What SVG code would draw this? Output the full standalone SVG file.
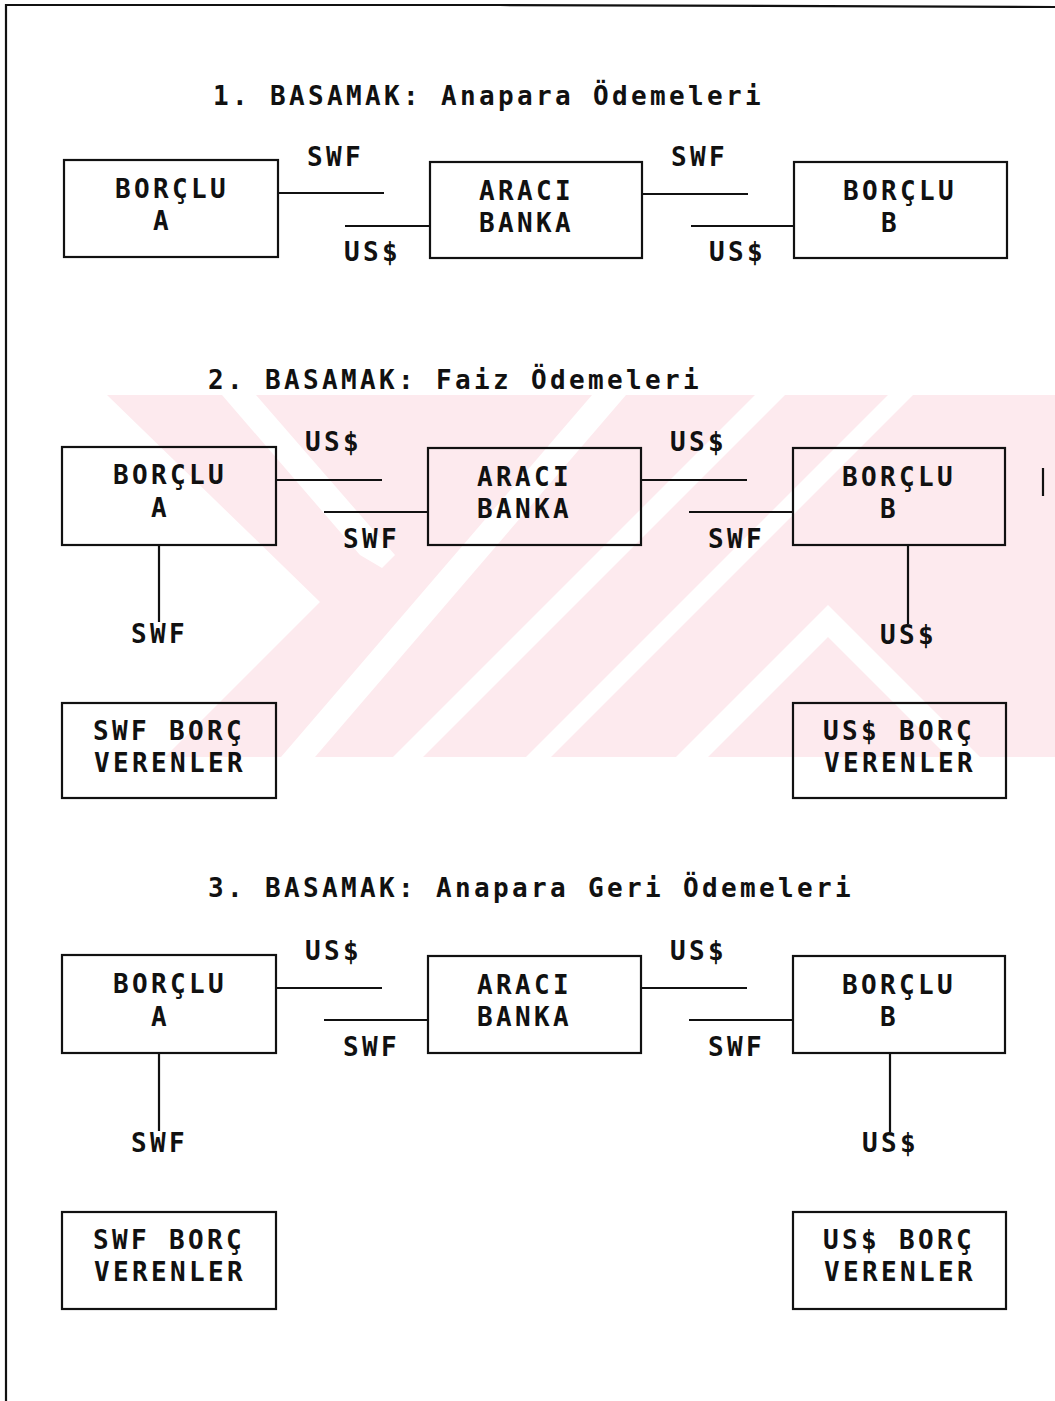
<svg xmlns="http://www.w3.org/2000/svg" width="1055" height="1401" viewBox="0 0 1055 1401">
<style>
  .t{font-family:"DejaVu Sans Mono","Liberation Mono",monospace;font-size:26px;font-weight:bold;letter-spacing:3.35px;fill:#111}
  .box{fill:none;stroke:#111;stroke-width:2.2}
  .ln{stroke:#111;stroke-width:2.2;fill:none}
  .wm{fill:#fdeaee}
  .wh{fill:#ffffff}
</style>
<rect x="0" y="0" width="1055" height="1401" fill="#ffffff"/>
<g id="watermark">
  <polygon class="wm" points="107,395 1055,395 1055,757 165,757 320,602"/>
  <polygon class="wh" points="222,395 256,395 395,555 382,568 360,555"/>
  <polygon class="wh" points="592,395 626,395 315,757 281,757"/>
  <polygon class="wh" points="755,395 785,395 423,757 393,757"/>
  <polygon class="wh" points="888,395 913,395 551,757 526,757"/>
  <polygon class="wh" points="676,757 828,605 980,757 948,757 828,637 708,757"/>
</g>
<g id="frame">
  <path class="ln" d="M6,1401 L6,5 L500,5 L1055,7"/>
  <line class="ln" x1="1043" y1="468" x2="1043" y2="496"/>
</g>
<g id="titles">
  <text class="t" x="213" y="105">1. BASAMAK: Anapara Ödemeleri</text>
  <text class="t" x="208" y="389">2. BASAMAK: Faiz Ödemeleri</text>
  <text class="t" x="208" y="897">3. BASAMAK: Anapara Geri Ödemeleri</text>
</g>
<g id="s1-borclu-a"><rect class="box" x="64" y="160" width="214" height="97"/><text class="t" x="115" y="198">BORÇLU</text><text class="t" x="153" y="230">A</text></g>
<g id="s1-araci-banka"><rect class="box" x="430" y="162" width="212" height="96"/><text class="t" x="479" y="200">ARACI</text><text class="t" x="479" y="232">BANKA</text></g>
<g id="s1-borclu-b"><rect class="box" x="794" y="162" width="213" height="96"/><text class="t" x="843" y="200">BORÇLU</text><text class="t" x="881" y="232">B</text></g>

<g id="s2-borclu-a"><rect class="box" x="62" y="447" width="214" height="98"/><text class="t" x="113" y="484">BORÇLU</text><text class="t" x="151" y="517">A</text></g>
<g id="s2-araci-banka"><rect class="box" x="428" y="448" width="213" height="97"/><text class="t" x="477" y="486">ARACI</text><text class="t" x="477" y="518">BANKA</text></g>
<g id="s2-borclu-b"><rect class="box" x="793" y="448" width="212" height="97"/><text class="t" x="842" y="486">BORÇLU</text><text class="t" x="880" y="518">B</text></g>
<g id="s2-swf-borc"><rect class="box" x="62" y="703" width="214" height="95"/><text class="t" x="93" y="740">SWF BORÇ</text><text class="t" x="94" y="772">VERENLER</text></g>
<g id="s2-usd-borc"><rect class="box" x="793" y="703" width="213" height="95"/><text class="t" x="823" y="740">US$ BORÇ</text><text class="t" x="824" y="772">VERENLER</text></g>

<g id="s3-borclu-a"><rect class="box" x="62" y="955" width="214" height="98"/><text class="t" x="113" y="993">BORÇLU</text><text class="t" x="151" y="1026">A</text></g>
<g id="s3-araci-banka"><rect class="box" x="428" y="956" width="213" height="97"/><text class="t" x="477" y="994">ARACI</text><text class="t" x="477" y="1026">BANKA</text></g>
<g id="s3-borclu-b"><rect class="box" x="793" y="956" width="212" height="97"/><text class="t" x="842" y="994">BORÇLU</text><text class="t" x="880" y="1026">B</text></g>
<g id="s3-swf-borc"><rect class="box" x="62" y="1212" width="214" height="97"/><text class="t" x="93" y="1249">SWF BORÇ</text><text class="t" x="94" y="1281">VERENLER</text></g>
<g id="s3-usd-borc"><rect class="box" x="793" y="1212" width="213" height="97"/><text class="t" x="823" y="1249">US$ BORÇ</text><text class="t" x="824" y="1281">VERENLER</text></g>

<g id="connectors">
  <line class="ln" x1="278" y1="193" x2="384" y2="193"/>
  <line class="ln" x1="345" y1="226" x2="430" y2="226"/>
  <line class="ln" x1="642" y1="194" x2="748" y2="194"/>
  <line class="ln" x1="691" y1="226" x2="794" y2="226"/>

  <line class="ln" x1="276" y1="480" x2="382" y2="480"/>
  <line class="ln" x1="324" y1="512" x2="428" y2="512"/>
  <line class="ln" x1="641" y1="480" x2="747" y2="480"/>
  <line class="ln" x1="689" y1="512" x2="793" y2="512"/>
  <line class="ln" x1="159" y1="545" x2="159" y2="622"/>
  <line class="ln" x1="908" y1="545" x2="908" y2="624"/>

  <line class="ln" x1="276" y1="988" x2="382" y2="988"/>
  <line class="ln" x1="324" y1="1020" x2="428" y2="1020"/>
  <line class="ln" x1="641" y1="988" x2="747" y2="988"/>
  <line class="ln" x1="689" y1="1020" x2="793" y2="1020"/>
  <line class="ln" x1="159" y1="1053" x2="159" y2="1131"/>
  <line class="ln" x1="890" y1="1053" x2="890" y2="1132"/>
</g>
<g id="connector-labels">
  <text class="t" x="307" y="166">SWF</text>
  <text class="t" x="344" y="261">US$</text>
  <text class="t" x="671" y="166">SWF</text>
  <text class="t" x="709" y="261">US$</text>

  <text class="t" x="305" y="451">US$</text>
  <text class="t" x="343" y="548">SWF</text>
  <text class="t" x="670" y="451">US$</text>
  <text class="t" x="708" y="548">SWF</text>
  <text class="t" x="131" y="643">SWF</text>
  <text class="t" x="880" y="644">US$</text>

  <text class="t" x="305" y="960">US$</text>
  <text class="t" x="343" y="1056">SWF</text>
  <text class="t" x="670" y="960">US$</text>
  <text class="t" x="708" y="1056">SWF</text>
  <text class="t" x="131" y="1152">SWF</text>
  <text class="t" x="862" y="1152">US$</text>
</g>
</svg>
